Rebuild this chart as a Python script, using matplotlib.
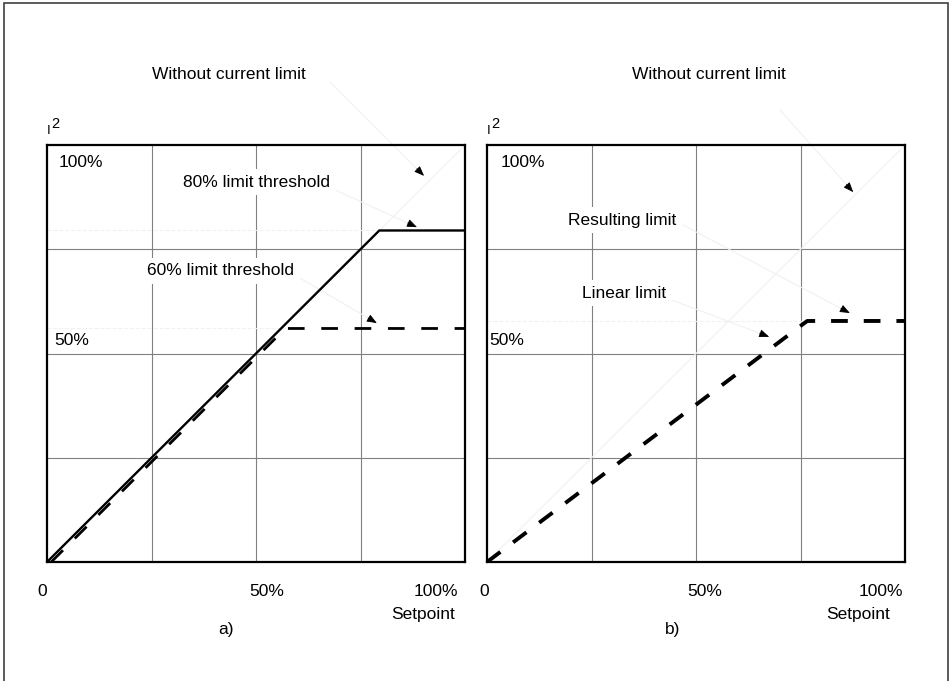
import matplotlib
matplotlib.use('Agg')
import matplotlib.pyplot as plt
from matplotlib.patches import Rectangle
import numpy as np

plt.rcParams['font.family'] = ['Liberation Sans', 'DejaVu Sans']

# values in percent of full scale
diag_x = [0, 100]
diag_y = [0, 100]
lim80_x = [0, 79.5, 100]
lim80_y = [0, 79.5, 79.5]
lim60_x = [1, 57, 100]
lim60_y = [0, 56, 56]
lin_x = [0, 76.6, 100]
lin_y = [0, 57.8, 57.8]

titles = ['Without current limit', 'Without current limit']
tags = ['a)', 'b)']
x_labels = ['0', '50%', '100%']
y_labels = ['100%', '50%']
grid_ticks = [25, 50, 75]

W, H = 952, 681
FS = 12.5
FAINT = '#f1f1f1'

fig = plt.figure(figsize=(W / 100, H / 100), dpi=100)

# outer frame (bottom edge runs off the picture)
fig.patches.append(Rectangle((4 / W, -0.02), 944 / W, 1.02 - 3 / H,
                             transform=fig.transFigure, fill=False,
                             edgecolor='#404040', lw=1.2))

ax1 = fig.add_axes([47 / W, 1 - 562 / H, 418 / W, 417 / H])
ax2 = fig.add_axes([487 / W, 1 - 562 / H, 418 / W, 417 / H])


def arrow(ax, tip, tail):
    tip = np.array(tip, float)
    tail = np.array(tail, float)
    d = tip - tail
    d = d / np.hypot(*d)
    ax.plot([tail[0], tip[0]], [tail[1], tip[1]], color=FAINT, lw=0.8,
            clip_on=False, zorder=1)
    ax.annotate('', xy=tip, xytext=tip - d * 2.4,
                arrowprops=dict(arrowstyle='-|>,head_length=0.5,head_width=0.2',
                                color='black', lw=0.6, mutation_scale=12,
                                shrinkA=0, shrinkB=0),
                annotation_clip=False, zorder=5)


def i_squared(ax):
    # "I" with a large raised "2", just above the frame
    ax.text(0.0, 1.0 + 11 / 417, 'I', fontsize=9.5, ha='left',
            va='baseline', transform=ax.transAxes)
    ax.text(4 / 418, 1.0 + 17 / 417, '2', fontsize=10.5, ha='left',
            va='baseline', transform=ax.transAxes)


for ax in (ax1, ax2):
    ax.set_xlim(0, 100)
    ax.set_ylim(0, 100)
    ax.set_xticks([])
    ax.set_yticks([])
    for t in grid_ticks:
        ax.axvline(t, color='#808080', lw=0.8, zorder=0)
        ax.axhline(t, color='#808080', lw=0.8, zorder=0)
    for s in ax.spines.values():
        s.set_linewidth(1.6)
        s.set_color('black')
    ax.plot(diag_x, diag_y, color=FAINT, lw=0.8, zorder=1)
    i_squared(ax)

lbl = dict(fontsize=FS, ha='center', va='center', clip_on=False)
box = dict(facecolor='white', edgecolor='none', pad=4)

# panel a
ax1.hlines(lim80_y[1], 0, lim80_x[1], colors=FAINT, linestyles='--', lw=0.8)
ax1.hlines(lim60_y[1], 0, lim60_x[1], colors=FAINT, linestyles='--', lw=0.8)
ax1.plot(lim80_x, lim80_y, color='black', lw=1.7, zorder=4,
         solid_joinstyle='miter')
ax1.plot(lim60_x, lim60_y, color='black', lw=2.0, dashes=(6, 6), zorder=3)

ax1.text(8.1, 95.7, y_labels[0], **lbl)
ax1.text(6.0, 53.0, y_labels[1], **lbl)
ax1.text(50.2, 91.1, '80% limit threshold', bbox=box, zorder=2, **lbl)
ax1.text(41.6, 69.8, '60% limit threshold', bbox=box, zorder=2, **lbl)
ax1.text(-1.2, -7.0, x_labels[0], **lbl)
ax1.text(52.6, -7.0, x_labels[1], **lbl)
ax1.text(93.1, -7.0, x_labels[2], **lbl)
ax1.text(90.0, -12.5, 'Setpoint', **lbl)
ax1.text(42.8, -16.1, tags[0], **lbl)
ax1.text(43.5, 116.8, titles[0], **lbl)

arrow(ax1, (90.2, 92.6), (67.7, 115.1))
arrow(ax1, (88.5, 80.3), (69.0, 89.2))
arrow(ax1, (78.9, 57.3), (60.5, 68.1))

# panel b
ax2.hlines(lin_y[1], 0, lin_x[1], colors=FAINT, linestyles='--', lw=0.8)
ax2.plot(lin_x, lin_y, color='black', lw=2.8, dashes=(4.3, 4.1), zorder=3)

ax2.text(8.6, 95.7, y_labels[0], **lbl)
ax2.text(4.8, 53.0, y_labels[1], **lbl)
ax2.text(32.3, 82.0, 'Resulting limit', bbox=box, zorder=2, **lbl)
ax2.text(32.8, 64.5, 'Linear limit', bbox=box, zorder=2, **lbl)
ax2.text(-0.7, -7.0, x_labels[0], **lbl)
ax2.text(52.2, -7.0, x_labels[1], **lbl)
ax2.text(94.3, -7.0, x_labels[2], **lbl)
ax2.text(88.8, -12.5, 'Setpoint', **lbl)
ax2.text(44.5, -16.1, tags[1], **lbl)
ax2.text(53.1, 116.8, titles[1], **lbl)

arrow(ax2, (87.6, 88.7), (70.1, 108.4))
arrow(ax2, (86.8, 59.7), (46.9, 80.8))
arrow(ax2, (67.5, 54.0), (44.3, 62.8))

fig.savefig('out.png', dpi=100)
